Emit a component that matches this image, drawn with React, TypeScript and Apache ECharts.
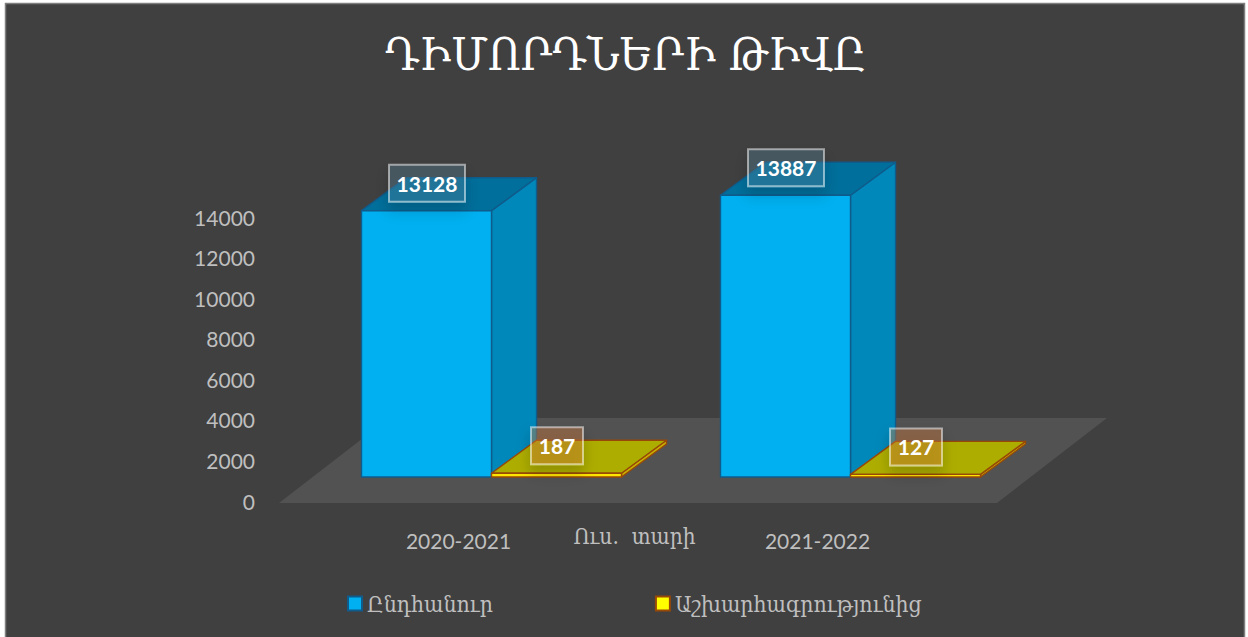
import React, { useEffect, useRef } from "react";
import * as echarts from "echarts";

const titleText = "ԴԻՄՈՐԴՆԵՐԻ ԹԻՎԸ";
const axisName = "Ուս.  տարի";
const categories = ["2020-2021", "2021-2022"];
const seriesNames = ["Ընդհանուր", "Աշխարհագրությունից"];
const totalValues = [13128, 13887];
const geographyValues = [187, 127];

const ARM = '"DejaVu Serif Condensed", "DejaVu Serif", serif';
const LAT = 'Lato, "Open Sans", sans-serif';

const SHIFT_X = 33, SHIFT_Y = 24, DEPTH_X = 45, DEPTH_Y = 33;
const BAR_RATIO = 130 / 359;

const palettes = [
  {
    front: "#00B0F0", side: "#0088BA", top: "#006F9B", edge: "#0F5C8C",
    labelFill: "rgba(90,140,165,0.30)",
  },
  {
    front: "#FFE600", side: "#C8B000", top: "#ADAD00", edge: "#984807",
    labelFill: "rgba(215,125,60,0.36)",
  },
];

const poly = (points: number[][], fill: string, stroke: string, w = 1.4) => ({
  type: "polygon",
  shape: { points },
  style: { fill, stroke, lineWidth: w, lineJoin: "round" },
});

const barRenderer = (seriesIdx: number) => (params: any, api: any) => {
  const idx = api.value(0);
  const val = api.value(1);
  const pal = palettes[seriesIdx];
  const band = api.size([1, 0])[0];
  const w = band * BAR_RATIO;
  const base = api.coord([idx, 0]);
  const top = api.coord([idx, val]);
  const x0 = base[0] + SHIFT_X + (seriesIdx === 0 ? -w : 0);
  const x1 = x0 + w;
  const yb = base[1] - SHIFT_Y;
  const yt = top[1] - SHIFT_Y;
  const cx = (x0 + x1) / 2 + 0.5;
  const ly = yt - 27.5;
  return {
    type: "group",
    children: [
      poly([[x1, yb], [x1 + DEPTH_X, yb - DEPTH_Y], [x1 + DEPTH_X, yt - DEPTH_Y], [x1, yt]], pal.side, pal.edge),
      poly([[x0, yt], [x1, yt], [x1 + DEPTH_X, yt - DEPTH_Y], [x0 + DEPTH_X, yt - DEPTH_Y]], pal.top, pal.edge),
      poly([[x0, yb], [x1, yb], [x1, yt], [x0, yt]], pal.front, pal.edge),
      {
        type: "rect",
        shape: { x: cx - (seriesIdx === 0 ? 38 : 26), y: ly - 18.5, width: seriesIdx === 0 ? 76 : 52, height: 37 },
        style: {
          fill: pal.labelFill,
          stroke: "rgba(255,255,255,0.5)",
          lineWidth: 2,
          shadowBlur: 14,
          shadowOffsetY: 8,
          shadowColor: "rgba(0,0,0,0.45)",
        },
      },
      {
        type: "text",
        style: {
          text: String(val),
          x: cx,
          y: ly,
          fill: "#FFFFFF",
          align: "center",
          verticalAlign: "middle",
          font: `bold 21px ${LAT}`,
        },
      },
    ],
  };
};

const floorRenderer = (params: any, api: any) => {
  const a = api.coord([0, 0]);
  const band = api.size([1, 0])[0];
  const x0 = a[0] - band / 2;
  const x1 = x0 + band * 2;
  const y = a[1] + 2;
  return {
    type: "polygon",
    shape: { points: [[x0, y], [x1, y], [x1 + 110, y - 85], [x0 + 110, y - 85]] },
    style: { fill: "#525252" },
  };
};

const App = () => {
  const ref = useRef<HTMLDivElement>(null);
  useEffect(() => {
    const chart = echarts.init(ref.current!, null, { renderer: "svg" });
    chart.setOption({
      animation: false,
      backgroundColor: "#FFFFFF",
      graphic: [
        {
          type: "rect",
          z: -10,
          silent: true,
          shape: { x: 5.5, y: 3.5, width: 1239, height: 640 },
          style: { fill: "#404040", stroke: "#7F7F7F", lineWidth: 1.5 },
        },
      ],
      title: {
        text: titleText,
        left: 620.5,
        top: 26,
        textAlign: "center",
        textStyle: { color: "#FFFFFF", fontFamily: ARM, fontWeight: "normal", fontSize: 45.5 },
      },
      grid: { left: 279, top: 217, width: 718, height: 284 },
      legend: {
        left: 347,
        top: 592,
        padding: 0,
        icon: "rect",
        itemWidth: 14,
        itemHeight: 14,
        itemGap: 162,
        selectedMode: false,
        textStyle: { color: "#BFBFBF", fontFamily: ARM, fontSize: 22.8 },
        data: seriesNames.map((name, i) => ({
          name,
          itemStyle: { color: i === 0 ? "#00B0F0" : "#FFFF00", borderColor: palettes[i].edge, borderWidth: 2 },
        })),
      },
      xAxis: {
        type: "category",
        data: categories,
        name: axisName,
        nameLocation: "middle",
        nameGap: 23,
        nameMoveOverlap: false,
        nameTextStyle: { color: "#BFBFBF", fontFamily: ARM, fontSize: 22.5, padding: [0, 7, 0, 0] },
        axisLine: { show: false },
        axisTick: { show: false },
        axisLabel: { color: "#BFBFBF", fontFamily: LAT, fontSize: 21, margin: 29 },
      },
      yAxis: {
        type: "value",
        min: 0,
        max: 14000,
        interval: 2000,
        axisLine: { show: false },
        axisTick: { show: false },
        splitLine: { show: false },
        axisLabel: { color: "#BFBFBF", fontFamily: LAT, fontSize: 21, margin: 24, formatter: (v: number) => String(v) },
      },
      series: [
        {
          type: "custom",
          name: "floor",
          silent: true,
          z: 1,
          renderItem: floorRenderer,
          data: [[0, 0]],
          encode: { x: 0, y: 1 },
        },
        {
          type: "custom",
          name: seriesNames[0],
          z: 2,
          itemStyle: { color: "#00B0F0" },
          renderItem: barRenderer(0),
          data: totalValues.map((v, i) => [i, v]),
          encode: { x: 0, y: 1 },
        },
        {
          type: "custom",
          name: seriesNames[1],
          z: 3,
          itemStyle: { color: "#FFFF00" },
          renderItem: barRenderer(1),
          data: geographyValues.map((v, i) => [i, v]),
          encode: { x: 0, y: 1 },
        },
      ],
    });
    return () => chart.dispose();
  }, []);
  return (
    <div
      ref={ref}
      style={{ position: "fixed", left: 0, top: 0, width: 1248, height: 637 }}
    />
  );
};

export default App;
